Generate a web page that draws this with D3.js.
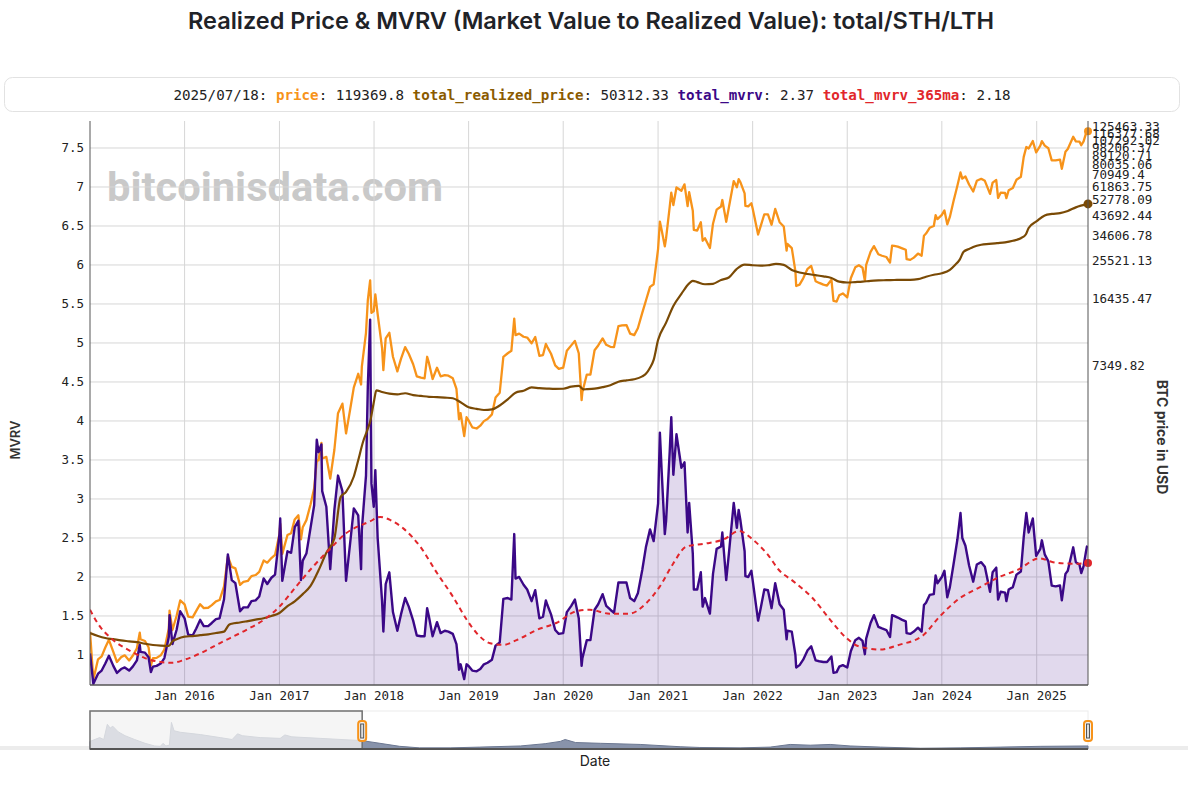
<!DOCTYPE html>
<html>
<head>
<meta charset="utf-8">
<script src="https://cdn.jsdelivr.net/npm/d3@7"></script>
<style>
  body { margin: 0; background: #fff; }
</style>
</head>
<body>
<div id="chart"></div>
<script>
// price + mvrv samples
const priceDates = [
  "2015-01-01","2015-01-14","2015-02-01","2015-02-15","2015-03-01","2015-03-15","2015-04-01","2015-04-15","2015-05-01","2015-05-15",
  "2015-06-01","2015-06-15","2015-07-01","2015-07-12","2015-07-15","2015-08-01","2015-08-15","2015-08-24","2015-09-01","2015-09-15",
  "2015-10-01","2015-10-15","2015-11-01","2015-11-04","2015-11-15","2015-12-01","2015-12-15",
  "2016-01-01","2016-01-15","2016-02-01","2016-02-15","2016-03-01","2016-03-15","2016-04-01","2016-04-15","2016-05-01","2016-05-15",
  "2016-06-01","2016-06-16","2016-07-01","2016-07-15","2016-08-02","2016-08-15","2016-09-01","2016-09-15","2016-10-01","2016-10-15",
  "2016-11-01","2016-11-15","2016-12-01","2016-12-15",
  "2017-01-01","2017-01-04","2017-01-12","2017-02-01","2017-02-15","2017-03-01","2017-03-15","2017-03-25","2017-04-01","2017-04-15",
  "2017-05-01","2017-05-15","2017-05-25","2017-06-01","2017-06-12","2017-06-15","2017-07-01","2017-07-16","2017-08-01","2017-08-15",
  "2017-09-01","2017-09-15","2017-10-01","2017-10-15","2017-11-01","2017-11-12","2017-11-15","2017-12-01","2017-12-08","2017-12-17",
  "2017-12-22","2017-12-31",
  "2018-01-06","2018-01-15","2018-02-01","2018-02-06","2018-02-15","2018-03-01","2018-03-15","2018-04-01","2018-04-15","2018-05-01",
  "2018-05-15","2018-06-01","2018-06-15","2018-07-01","2018-07-15","2018-07-25","2018-08-01","2018-08-15","2018-09-01","2018-09-15",
  "2018-10-01","2018-10-15","2018-11-01","2018-11-15","2018-11-25","2018-12-01","2018-12-15","2018-12-24",
  "2019-01-01","2019-01-15","2019-02-01","2019-02-15","2019-03-01","2019-03-15","2019-04-01","2019-04-15","2019-05-01","2019-05-15",
  "2019-06-01","2019-06-15","2019-06-26","2019-07-01","2019-07-15","2019-08-01","2019-08-15","2019-09-01","2019-09-15","2019-10-01",
  "2019-10-15","2019-10-26","2019-11-01","2019-11-15","2019-12-01","2019-12-15",
  "2020-01-01","2020-01-15","2020-02-01","2020-02-15","2020-03-01","2020-03-12","2020-03-15","2020-04-01","2020-04-15","2020-05-01",
  "2020-05-15","2020-06-01","2020-06-15","2020-07-01","2020-07-15","2020-08-01","2020-08-15","2020-09-01","2020-09-15","2020-10-01",
  "2020-10-15","2020-11-01","2020-11-15","2020-12-01","2020-12-15",
  "2021-01-01","2021-01-08","2021-01-15","2021-01-27","2021-02-01","2021-02-15","2021-02-21","2021-03-01","2021-03-13","2021-04-01",
  "2021-04-13","2021-04-25","2021-05-01","2021-05-15","2021-05-19","2021-06-01","2021-06-15","2021-06-22","2021-07-01","2021-07-20",
  "2021-08-01","2021-08-15","2021-09-01","2021-09-06","2021-09-21","2021-10-01","2021-10-20","2021-11-01","2021-11-08","2021-11-15",
  "2021-12-01","2021-12-04","2021-12-15","2021-12-27",
  "2022-01-01","2022-01-22","2022-02-01","2022-02-15","2022-03-01","2022-03-15","2022-03-29","2022-04-15","2022-05-01","2022-05-12",
  "2022-05-15","2022-06-01","2022-06-15","2022-06-18","2022-07-01","2022-07-15","2022-08-01","2022-08-15","2022-09-01","2022-09-15",
  "2022-10-01","2022-10-15","2022-11-01","2022-11-09","2022-11-21","2022-12-01","2022-12-15",
  "2023-01-01","2023-01-15","2023-02-01","2023-02-15","2023-03-01","2023-03-10","2023-03-15","2023-04-01","2023-04-14","2023-05-01",
  "2023-05-15","2023-06-01","2023-06-15","2023-06-23","2023-07-01","2023-07-15","2023-08-01","2023-08-15","2023-08-18","2023-09-01",
  "2023-09-15","2023-10-01","2023-10-15","2023-10-24","2023-11-01","2023-11-15","2023-12-01","2023-12-08","2023-12-15",
  "2024-01-01","2024-01-11","2024-01-22","2024-02-01","2024-02-15","2024-03-01","2024-03-13","2024-03-20","2024-04-01","2024-04-15",
  "2024-05-01","2024-05-15","2024-06-01","2024-06-15","2024-07-05","2024-07-15","2024-07-29","2024-08-05","2024-08-15","2024-09-01",
  "2024-09-06","2024-09-15","2024-10-01","2024-10-15","2024-11-01","2024-11-12","2024-11-22","2024-12-01","2024-12-17","2024-12-30",
  "2025-01-15","2025-01-21","2025-02-01","2025-02-15","2025-02-28","2025-03-15","2025-04-01","2025-04-08","2025-04-22","2025-05-01",
  "2025-05-22","2025-06-01","2025-06-15","2025-06-22","2025-07-01","2025-07-10","2025-07-14","2025-07-18"
];
const price = [
  314,178,226,234,260,285,247,219,232,237,
  223,236,258,310,287,281,261,210,229,230,
  237,254,325,403,320,378,455,
  434,375,372,402,435,415,417,430,450,457,
  536,766,677,665,547,567,573,607,615,638,
  730,712,752,780,
  998,1130,790,989,1010,1190,1250,940,1085,1180,
  1420,1720,2400,2400,2950,2450,2500,1930,2720,4200,
  4700,3300,4400,5700,6700,5900,7300,10900,16000,20300,
  13800,14100,
  17200,13600,9100,7000,10200,10900,8200,6900,8000,9200,
  8500,7500,6500,6400,6350,8200,7600,6300,7200,6500,
  6600,6550,6350,5600,3900,4200,3200,4000,
  3850,3550,3500,3620,3820,3920,4140,5050,5350,8200,
  8550,8800,12900,10600,10800,10400,10300,9630,10360,8300,
  8370,9550,9200,8500,7400,7100,
  7200,8800,9390,9900,8550,4900,5400,6640,6640,8860,
  9380,10200,9450,9230,9200,11800,11900,11950,10800,10600,
  11500,13800,15950,18800,19400,
  29400,40800,36800,30400,33500,48700,57500,49600,61200,58800,
  63500,49000,57800,46400,37000,36700,40500,32500,33500,29800,
  39800,47000,48800,52700,40700,48100,66000,61300,67500,65000,
  57000,49200,48900,50700,
  47700,35000,38700,44500,44400,39300,47400,40500,38500,28900,
  31300,29800,22600,19000,19300,20800,23300,24100,20100,19700,
  19300,19100,20500,15900,15800,17000,17400,
  16600,20900,23700,24300,23600,20200,24400,28500,30500,27700,
  27200,26800,25100,30700,30600,30300,29700,29200,26100,25900,
  26600,27900,27200,34500,35400,37900,38700,44000,42000,
  44200,46600,39500,43100,51900,62400,73100,67900,69700,63400,
  58300,66200,67800,66200,56700,64800,66800,54000,57500,57300,
  53900,59200,60800,67000,69500,88000,98900,97200,106100,92800,
  100500,106100,100600,97500,84400,84300,85200,76300,93400,96500,
  111700,105700,105500,101000,105700,116000,119800,119369.8
];
const mvrv = [
  1.02,0.63,0.76,0.80,0.89,0.99,0.86,0.77,0.82,0.84,
  0.80,0.85,0.93,1.13,1.04,1.03,0.97,0.78,0.85,0.86,
  0.89,0.96,1.23,1.51,1.14,1.32,1.56,
  1.47,1.26,1.25,1.34,1.45,1.37,1.37,1.41,1.46,1.47,
  1.71,2.29,1.96,1.92,1.56,1.61,1.61,1.69,1.70,1.75,
  1.98,1.91,1.99,2.03,
  2.55,2.75,1.95,2.33,2.31,2.64,2.72,1.96,2.21,2.30,
  2.63,2.92,3.76,3.60,3.70,3.10,2.90,2.10,2.86,3.30,
  3.10,1.95,2.44,2.88,2.79,2.10,2.61,3.30,4.44,5.30,
  3.20,2.90,
  3.37,2.50,1.69,1.30,1.91,2.06,1.55,1.31,1.52,1.73,
  1.62,1.44,1.25,1.24,1.24,1.60,1.49,1.24,1.42,1.28,
  1.31,1.30,1.27,1.14,0.81,0.88,0.69,0.88,
  0.86,0.80,0.79,0.82,0.88,0.90,0.94,1.12,1.16,1.72,
  1.73,1.71,2.55,1.98,2.00,1.90,1.84,1.69,1.83,1.47,
  1.49,1.70,1.64,1.52,1.32,1.27,
  1.28,1.55,1.63,1.71,1.47,0.86,0.96,1.19,1.19,1.58,
  1.65,1.78,1.63,1.58,1.54,1.93,1.93,1.93,1.73,1.69,
  1.79,2.09,2.38,2.61,2.46,
  2.94,3.85,3.35,2.55,2.72,3.61,4.05,3.31,3.83,3.40,
  3.47,2.57,2.95,2.30,1.84,1.84,2.06,1.62,1.73,1.53,
  2.04,2.36,2.39,2.57,1.96,2.29,2.95,2.63,2.86,2.72,
  2.33,2.01,2.00,2.08,
  1.96,1.44,1.60,1.84,1.83,1.60,1.92,1.65,1.58,1.20,
  1.31,1.30,1.00,0.84,0.87,0.94,1.06,1.11,0.93,0.92,
  0.91,0.91,0.98,0.77,0.78,0.85,0.87,
  0.84,1.05,1.19,1.22,1.18,1.01,1.21,1.41,1.51,1.36,
  1.34,1.32,1.23,1.51,1.50,1.48,1.45,1.43,1.28,1.27,
  1.30,1.35,1.30,1.64,1.67,1.77,1.78,2.02,1.92,
  2.00,2.08,1.74,1.87,2.16,2.48,2.82,2.50,2.40,2.15,
  1.94,2.16,2.19,2.13,1.81,2.06,2.12,1.71,1.81,1.80,
  1.69,1.84,1.87,2.03,2.07,2.51,2.82,2.57,2.75,2.27,
  2.36,2.47,2.29,2.20,1.89,1.88,1.89,1.70,2.04,2.08,
  2.38,2.19,2.16,2.05,2.14,2.32,2.39,2.37
];

// realized price
const rpDates = [
  "2015-01-01","2015-02-01","2015-03-01","2015-04-01","2015-05-01","2015-06-01","2015-07-01","2015-08-01","2015-09-01","2015-10-01",
  "2015-11-01","2015-11-15","2015-12-01",
  "2016-01-01","2016-02-01","2016-03-01","2016-04-01","2016-05-01","2016-06-01","2016-06-20","2016-07-01","2016-08-01","2016-09-01",
  "2016-10-01","2016-11-01","2016-12-01",
  "2017-01-01","2017-02-01","2017-03-01","2017-04-01","2017-05-01","2017-06-01","2017-07-01","2017-08-01","2017-08-25","2017-09-15",
  "2017-10-15","2017-11-01","2017-11-20","2017-12-05","2017-12-18",
  "2018-01-01","2018-01-10","2018-02-01","2018-03-01","2018-04-01","2018-05-01","2018-06-01","2018-07-01","2018-08-01","2018-09-01",
  "2018-10-01","2018-11-01","2018-12-01",
  "2019-01-01","2019-02-01","2019-03-01","2019-04-01","2019-05-01","2019-06-01","2019-07-01","2019-08-01","2019-09-01","2019-10-01",
  "2019-11-01","2019-12-01",
  "2020-01-01","2020-02-01","2020-03-01","2020-03-20","2020-04-01","2020-05-01","2020-06-01","2020-07-01","2020-08-01","2020-09-01",
  "2020-10-01","2020-11-01","2020-11-15","2020-12-01","2020-12-15",
  "2021-01-01","2021-02-01","2021-03-01","2021-04-01","2021-05-01","2021-05-15","2021-06-01","2021-07-01","2021-08-01","2021-09-01",
  "2021-10-01","2021-11-01","2021-12-01",
  "2022-01-01","2022-02-01","2022-03-01","2022-04-01","2022-05-01","2022-06-01","2022-07-01","2022-08-01","2022-09-01","2022-10-01",
  "2022-11-01","2022-12-01",
  "2023-01-01","2023-02-01","2023-03-01","2023-04-01","2023-05-01","2023-06-01","2023-07-01","2023-08-01","2023-09-01","2023-10-01",
  "2023-11-01","2023-12-01",
  "2024-01-01","2024-02-01","2024-02-20","2024-03-10","2024-03-25","2024-04-15","2024-05-01","2024-06-01","2024-07-01","2024-08-01",
  "2024-09-01","2024-10-01","2024-11-01","2024-11-20","2024-12-01",
  "2025-01-01","2025-02-01","2025-03-01","2025-04-01","2025-05-01","2025-06-01","2025-07-18"
];
const realized = [
  309,298,291,287,283,280,277,272,268,266,
  265,280,287,
  296,298,301,304,309,314,340,345,350,356,
  362,368,378,
  392,425,450,490,540,650,800,950,1550,1650,
  1980,2400,3000,3400,3850,
  4850,5500,5400,5300,5250,5320,5200,5150,5100,5080,
  5050,5010,4780,
  4500,4420,4360,4390,4600,4950,5350,5480,5700,5650,
  5620,5600,
  5610,5750,5800,5570,5580,5620,5720,5850,6100,6200,
  6280,6500,6700,7200,7900,
  10000,12300,15000,17300,19600,20200,19900,19400,19500,20400,
  21000,23300,24500,
  24300,24200,24300,24700,24400,23000,22300,21900,21600,21300,
  20900,20000,
  19800,19900,20000,20200,20300,20350,20400,20450,20450,20600,
  21200,21700,
  22100,23000,24300,26000,28500,29500,30200,31000,31300,31600,
  31900,32500,33500,35000,37800,
  41000,43900,44700,45100,46300,48300,50312.33
];

// mvrv 365 day moving average
const maDates = [
  "2015-01-01","2015-02-01","2015-04-01","2015-06-01","2015-08-01","2015-10-01","2015-11-15","2016-01-01","2016-03-01","2016-05-15",
  "2016-08-25","2016-11-10","2017-01-01","2017-03-07","2017-05-10","2017-07-12","2017-09-15","2017-12-15","2018-01-25","2018-03-05",
  "2018-04-25","2018-06-28","2018-09-01","2018-11-01","2018-12-25","2019-02-01","2019-03-25","2019-05-15","2019-07-05","2019-09-20",
  "2019-12-05","2020-02-20","2020-04-12","2020-06-28","2020-09-12","2020-11-15","2021-01-08","2021-02-28","2021-04-20","2021-07-05",
  "2021-09-10","2021-11-10","2022-01-01","2022-02-25","2022-04-15","2022-06-05","2022-08-20","2022-10-25","2022-12-28","2023-02-15",
  "2023-05-08","2023-07-20","2023-10-20","2023-12-20","2024-03-07","2024-05-22","2024-08-10","2024-10-25","2025-01-10","2025-03-05",
  "2025-05-20","2025-07-18"
];
const mvrvMa = [
  1.58,1.40,1.19,1.06,0.96,0.91,0.90,0.94,1.02,1.15,
  1.32,1.47,1.62,1.88,2.13,2.35,2.56,2.71,2.77,2.73,
  2.62,2.39,2.05,1.75,1.45,1.28,1.15,1.13,1.19,1.32,
  1.41,1.56,1.58,1.53,1.53,1.66,1.88,2.17,2.39,2.43,
  2.48,2.59,2.48,2.30,2.08,1.95,1.73,1.46,1.22,1.11,
  1.07,1.13,1.25,1.48,1.72,1.86,2.00,2.10,2.24,2.19,
  2.17,2.18
];

// range slider overview (relative height)
const navDates = [
  "2011-01-18","2011-03-10","2011-04-01","2011-04-20","2011-05-05","2011-05-19","2011-06-17","2011-07-23","2011-09-12","2011-11-06",
  "2011-12-27","2012-01-26","2012-02-10","2012-02-24","2012-03-14","2012-03-25","2012-04-08","2012-05-11","2012-08-25","2012-12-09",
  "2013-02-10","2013-03-11","2013-04-05","2013-07-09","2013-10-23","2013-11-17","2013-12-24","2014-05-23","2015-01-01","2015-04-05",
  "2015-07-19","2015-11-02","2016-04-12","2016-09-16","2017-04-20","2017-08-29","2017-11-17","2017-12-13","2018-02-06","2018-06-18",
  "2019-01-15","2019-08-15","2019-11-28","2020-06-28","2020-12-05","2021-03-21","2021-07-05","2021-10-19","2022-02-02","2022-07-13",
  "2023-02-10","2023-09-09","2024-04-08","2024-11-06","2025-07-18"
];
const navLevel = [
  0.20,0.30,0.25,0.65,0.55,0.60,0.45,0.35,0.25,0.15,
  0.08,0.07,0.15,0.08,0.10,0.70,0.48,0.44,0.38,0.30,
  0.25,0.40,0.35,0.30,0.28,0.37,0.32,0.28,0.22,0.15,
  0.07,0.03,0.03,0.05,0.08,0.14,0.20,0.25,0.17,0.15,
  0.12,0.06,0.04,0.03,0.05,0.12,0.10,0.12,0.08,0.05,
  0.02,0.03,0.05,0.07,0.08
];

const yearTicks = ["2016","2017","2018","2019","2020","2021","2022","2023","2024","2025"];
const mvrvTicks = [1, 1.5, 2, 2.5, 3, 3.5, 4, 4.5, 5, 5.5, 6, 6.5, 7, 7.5];
const priceTicks = [7349.82, 16435.47, 25521.13, 34606.78, 43692.44, 52778.09, 61863.75,
  70949.4, 80035.06, 89120.71, 98206.37, 107292.02, 116377.68, 125463.33];

const width = 1188;
const height = 790;
const plot = { left: 90, right: 1088, top: 121, bottom: 685 };
const mono = "'DejaVu Sans Mono', monospace";
const sans = "Inter, 'Open Sans', sans-serif";

const cPrice = "#f7931a";
const cReal = "#7a4a05";
const cMvrv = "#3b0887";
const cMa = "#e1262b";

const parse = d3.timeParse("%Y-%m-%d");

const svg = d3.select("#chart")
  .append("svg")
  .attr("width", width)
  .attr("height", height);

// scales
const x = d3.scaleTime()
  .domain([parse("2015-01-01"), parse("2025-07-18")])
  .range([plot.left, plot.right]);
const yM = d3.scaleLinear().domain([0.615, 7.846]).range([plot.bottom, plot.top]);
const yP = d3.scaleLog().domain([166.67, 134650]).range([plot.bottom, plot.top]);

// title
svg.append("text")
  .attr("x", 591).attr("y", 29)
  .attr("text-anchor", "middle")
  .style("font-family", sans).style("font-size", "23.5px").style("font-weight", 600)
  .style("fill", "#1f2328")
  .text("Realized Price & MVRV (Market Value to Realized Value): total/STH/LTH");

// legend box with last values
svg.append("rect")
  .attr("x", 4.5).attr("y", 77.5).attr("width", 1175).attr("height", 34).attr("rx", 8)
  .style("fill", "#fff").style("stroke", "#e2e2e2");

const leg = svg.append("text")
  .attr("x", 592).attr("y", 100)
  .attr("text-anchor", "middle")
  .style("font-family", mono).style("font-size", "14.2px").style("fill", "#222");
const last = priceDates.length - 1;
const legendParts = [
  [d3.timeFormat("%Y/%m/%d")(parse(priceDates[last])) + ": ", null],
  ["price", cPrice], [": " + price[last] + " ", null],
  ["total_realized_price", "#8a5a00"], [": " + realized[realized.length - 1] + " ", null],
  ["total_mvrv", cMvrv], [": " + mvrv[last] + " ", null],
  ["total_mvrv_365ma", cMa], [": " + mvrvMa[mvrvMa.length - 1], null]
];
legendParts.forEach(([t, c]) => {
  const ts = leg.append("tspan").text(t);
  if (c) ts.style("fill", c).style("font-weight", "bold");
});

// watermark
svg.append("text")
  .attr("x", 107).attr("y", 201)
  .attr("textLength", 336).attr("lengthAdjust", "spacingAndGlyphs")
  .style("font-family", "Roboto, 'Open Sans', sans-serif").style("font-weight", "bold")
  .style("font-size", "40px").style("fill", "#c9c9c9")
  .text("bitcoinisdata.com");

// grid
const grid = svg.append("g").style("stroke", "#d6d6d6").style("stroke-width", 1);
grid.selectAll(".gx")
  .data(yearTicks)
  .enter().append("line")
  .attr("x1", d => x(parse(d + "-01-01"))).attr("x2", d => x(parse(d + "-01-01")))
  .attr("y1", plot.top).attr("y2", plot.bottom);
grid.selectAll(".gy")
  .data(mvrvTicks)
  .enter().append("line")
  .attr("x1", plot.left).attr("x2", plot.right)
  .attr("y1", d => yM(d)).attr("y2", d => yM(d));

// clip
svg.append("clipPath").attr("id", "clip")
  .append("rect")
  .attr("x", plot.left).attr("y", plot.top)
  .attr("width", plot.right - plot.left).attr("height", plot.bottom - plot.top);

const g = svg.append("g").attr("clip-path", "url(#clip)");

const mRows = priceDates.map((d, i) => ({ date: parse(d), price: price[i], mvrv: mvrv[i] }));
const rRows = rpDates.map((d, i) => ({ date: parse(d), v: realized[i] }));
const aRows = maDates.map((d, i) => ({ date: parse(d), v: mvrvMa[i] }));

// mvrv fill
g.append("path")
  .datum(mRows)
  .attr("d", d3.area().x(d => x(d.date)).y0(plot.bottom).y1(d => yM(d.mvrv)))
  .style("fill", "rgba(70, 20, 140, 0.16)");

// price
g.append("path")
  .datum(mRows)
  .attr("d", d3.line().x(d => x(d.date)).y(d => yP(d.price)))
  .style("fill", "none").style("stroke", cPrice).style("stroke-width", 2.3)
  .style("stroke-linejoin", "round");

// mvrv line
g.append("path")
  .datum(mRows)
  .attr("d", d3.line().x(d => x(d.date)).y(d => yM(d.mvrv)))
  .style("fill", "none").style("stroke", cMvrv).style("stroke-width", 2.4)
  .style("stroke-linejoin", "round");

// realized price
g.append("path")
  .datum(rRows)
  .attr("d", d3.line().curve(d3.curveMonotoneX).x(d => x(d.date)).y(d => yP(d.v)))
  .style("fill", "none").style("stroke", cReal).style("stroke-width", 2.2);

// mvrv 365ma
g.append("path")
  .datum(aRows)
  .attr("d", d3.line().curve(d3.curveMonotoneX).x(d => x(d.date)).y(d => yM(d.v)))
  .style("fill", "none").style("stroke", cMa).style("stroke-width", 2)
  .style("stroke-dasharray", "5,4");

// end markers
const ends = svg.append("g");
ends.append("circle").attr("cx", x(mRows[last].date)).attr("cy", yP(price[last])).attr("r", 4).style("fill", cPrice);
ends.append("circle").attr("cx", x(rRows[rRows.length - 1].date)).attr("cy", yP(realized[realized.length - 1])).attr("r", 4.5).style("fill", cReal);
ends.append("circle").attr("cx", x(aRows[aRows.length - 1].date)).attr("cy", yM(mvrvMa[mvrvMa.length - 1])).attr("r", 4).style("fill", cMa);

// axis lines
const axisColor = "#555";
svg.append("line").attr("x1", plot.left).attr("x2", plot.left).attr("y1", plot.top).attr("y2", plot.bottom)
  .style("stroke", axisColor);
svg.append("line").attr("x1", plot.right).attr("x2", plot.right).attr("y1", plot.top).attr("y2", plot.bottom)
  .style("stroke", axisColor);
svg.append("line").attr("x1", plot.left).attr("x2", plot.right).attr("y1", plot.bottom).attr("y2", plot.bottom)
  .style("stroke", axisColor).style("stroke-width", 1.5);

// tick labels
const tickStyle = sel => sel.style("font-family", mono).style("font-size", "12.5px").style("fill", "#222");
svg.append("g").selectAll("text")
  .data(mvrvTicks)
  .enter().append("text")
  .attr("x", plot.left - 6).attr("y", d => yM(d)).attr("dy", "0.35em")
  .attr("text-anchor", "end")
  .call(tickStyle)
  .text(d => d);
svg.append("g").selectAll("text")
  .data(priceTicks)
  .enter().append("text")
  .attr("x", plot.right + 4).attr("y", d => yP(d)).attr("dy", "0.35em")
  .call(tickStyle)
  .text(d => d);
svg.append("g").selectAll("text")
  .data(yearTicks)
  .enter().append("text")
  .attr("x", d => x(parse(d + "-01-01"))).attr("y", 700)
  .attr("text-anchor", "middle")
  .call(tickStyle)
  .text(d => "Jan " + d);

// axis titles
svg.append("text")
  .attr("transform", "translate(20,440) rotate(-90)")
  .attr("text-anchor", "middle")
  .style("font-family", sans).style("font-size", "13px").style("font-weight", 600).style("fill", "#333")
  .text("MVRV");
svg.append("text")
  .attr("transform", "translate(1157,437) rotate(90)")
  .attr("text-anchor", "middle")
  .style("font-family", sans).style("font-size", "14px").style("font-weight", 700).style("fill", "#333")
  .text("BTC price in USD");
svg.append("text")
  .attr("x", 595).attr("y", 766)
  .attr("text-anchor", "middle")
  .style("font-family", sans).style("font-size", "14px").style("fill", "#222")
  .text("Date");

// range slider
const nav = { top: 711, bottom: 749 };
const xn = d3.scaleTime()
  .domain([parse("2011-01-18"), parse("2025-07-18")])
  .range([plot.left, plot.right]);
svg.append("rect").attr("x", 0).attr("y", 746).attr("width", width).attr("height", 4).style("fill", "#ececec");
svg.append("rect")
  .attr("x", plot.left).attr("y", nav.top).attr("width", plot.right - plot.left).attr("height", nav.bottom - nav.top)
  .style("fill", "#fff").style("stroke", "#ececec");
const navRows = navDates.map((d, i) => ({ date: parse(d), v: navLevel[i] }));
const navH = nav.bottom - nav.top;
svg.append("path")
  .datum(navRows)
  .attr("d", d3.area().x(d => xn(d.date)).y0(nav.bottom).y1(d => nav.bottom - d.v * navH))
  .style("fill", "#8893ab").style("stroke", "#6c7892").style("stroke-width", 1);
const selX = xn(parse("2015-01-01"));
svg.append("rect")
  .attr("x", plot.left).attr("y", nav.top).attr("width", selX - plot.left).attr("height", navH)
  .style("fill", "rgba(242,242,242,0.78)").style("stroke", "#707070").style("stroke-width", 1.5);
svg.append("line").attr("x1", plot.left).attr("x2", plot.right).attr("y1", nav.bottom).attr("y2", nav.bottom)
  .style("stroke", "#555").style("stroke-width", 2);
[selX, plot.right].forEach(hx => {
  svg.append("rect").attr("x", hx - 4).attr("y", 721).attr("width", 8).attr("height", 20).attr("rx", 3)
    .style("fill", "#f2f2f2").style("stroke", cPrice).style("stroke-width", 2);
  svg.append("rect").attr("x", hx - 1.5).attr("y", 724).attr("width", 3).attr("height", 14)
    .style("fill", "#ddd").style("stroke", "#555").style("stroke-width", 1);
});
</script>
</body>
</html>
